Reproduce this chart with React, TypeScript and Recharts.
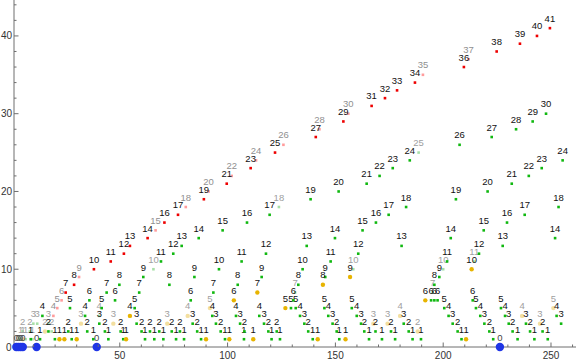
import { ScatterChart, Scatter, XAxis, YAxis } from 'recharts';

// [n, value] pairs
const redPoints = [
  [24.9, 7], [28.8, 8], [38.0, 10], [45.8, 11], [51.9, 12], [54.7, 13], [62.9, 14], [70.7, 16],
  [77.0, 17], [89.0, 19], [99.6, 21], [110.7, 23], [122.0, 25], [140.9, 27], [153.7, 29],
  [166.8, 31], [173.0, 32], [178.6, 33], [186.9, 34], [209.6, 36], [224.8, 38], [235.6, 39],
  [243.5, 40], [249.5, 41],
];
const redPale = [
  [19.2, 4], [21.0, 5], [23.0, 6], [31.1, 9], [66.6, 15], [80.6, 18], [91.2, 20], [101.9, 22],
  [113.2, 24], [125.9, 26], [142.6, 28], [156.0, 30], [190.6, 35], [211.8, 37],
];
const greenPoints = [
  // value 1
  [8.7, 1], [13.0, 1], [19.9, 1], [27.7, 1], [37.7, 1], [44.7, 1], [51.6, 1], [61.7, 1], [66.0, 1],
  [70.2, 1], [76.1, 1], [79.8, 1], [87.7, 1], [98.8, 1], [107.6, 1], [120.4, 1], [124.3, 1],
  [139.5, 1], [151.8, 1], [165.6, 1], [171.6, 1], [177.7, 1], [185.8, 1], [189.7, 1], [208.5, 1],
  [223.2, 1], [234.5, 1], [242.3, 1], [248.5, 1],
  // value 2
  [16.9, 2], [26.1, 2], [34.9, 2], [43.1, 2], [50.4, 2], [60.1, 2], [64.0, 2], [68.3, 2], [74.1, 2],
  [77.9, 2], [85.9, 2], [96.8, 2], [107.8, 2], [118.9, 2], [122.8, 2], [137.4, 2], [150.6, 2],
  [163.4, 2], [168.6, 2], [175.8, 2], [184.0, 2], [206.7, 2], [221.4, 2], [232.2, 2], [240.3, 2],
  [246.1, 2],
  // value 3
  [40.5, 3], [57.8, 3], [83.8, 3], [94.6, 3], [105.8, 3], [116.9, 3], [135.6, 3], [148.7, 3],
  [161.9, 3], [181.7, 3], [204.4, 3], [219.1, 3], [230.4, 3], [238.4, 3], [254.7, 3],
  // value 4
  [14.1, 4], [33.9, 4], [92.9, 4], [103.9, 4], [114.7, 4], [133.6, 4], [146.7, 4], [159.9, 4],
  [202.5, 4], [217.2, 4], [228.7, 4], [252.6, 4],
  // value 5
  [26.9, 5], [41.6, 5], [56.9, 5], [129.4, 5], [131.6, 5], [144.9, 5], [157.6, 5], [200.5, 5],
  [215.2, 5], [226.8, 5],
  // value 6
  [35.9, 6], [47.8, 6], [82.9, 6], [130.5, 6], [194.4, 6], [195.9, 6], [197.4, 6], [213.7, 6],
  // 7 .. 12
  [43.9, 7], [59.0, 7], [93.4, 7],
  [49.8, 8], [73.0, 8], [104.7, 8], [132.8, 8], [195.9, 8],
  [60.9, 9], [84.6, 9], [115.8, 9], [145.3, 9], [198.2, 9],
  [96.0, 10], [134.8, 10],
  [69.1, 11], [106.5, 11], [147.8, 11], [201.8, 11],
  [74.8, 12], [117.8, 12], [160.6, 12], [216.6, 12],
  // 13 and up
  [78.7, 13], [136.7, 13], [180.7, 13], [227.6, 13],
  [86.6, 14], [149.8, 14], [203.5, 14], [251.9, 14],
  [97.7, 15], [162.6, 15], [218.8, 15],
  [109.0, 16], [168.8, 16], [229.6, 16],
  [119.5, 17], [174.7, 17], [237.8, 17],
  [182.8, 18], [253.5, 18],
  [138.5, 19], [205.9, 19],
  [151.5, 20], [220.6, 20],
  [164.5, 21], [231.8, 21],
  [170.5, 22], [239.7, 22],
  [176.6, 23], [245.7, 23],
  [184.5, 24], [255.4, 24],
  [207.6, 26], [222.5, 27], [233.8, 28], [241.5, 29], [247.7, 30],
];
const greenPale = [
  [4.0, 1], [6.3, 1], [9.5, 1], [4.9, 2], [8.3, 2], [18.4, 2], [9.9, 3], [11.7, 3], [16.9, 3],
  [40.4, 4], [65.6, 10], [131.3, 7], [158.3, 10], [195.1, 7], [200.0, 10], [214.4, 11],
  [123.8, 18], [188.6, 25],
];
const yellowPoints = [
  [22.0, 1], [24.3, 1], [30.0, 1], [52.9, 1], [54.7, 4], [90.0, 1], [100.8, 1], [111.9, 1],
  [141.8, 1], [154.7, 1], [102.9, 6], [113.8, 7], [126.8, 5], [144.2, 8], [156.8, 9], [191.7, 6],
  [210.6, 1], [213.2, 10],
];
const yellowPale = [
  [5.0, 1], [15.3, 2], [32.0, 3], [47.0, 3], [72.0, 3], [81.5, 4], [91.8, 5], [167.6, 3],
  [174.2, 3], [180.0, 4], [188.2, 2], [236.6, 4], [244.9, 3], [251.1, 5],
];
const bluePoints = [[2, 0], [3, 0], [4, 0], [5, 0], [11.4, 0], [39.3, 0], [226.3, 0]];

const xTicks = [10, 20, 30, 40, 50, 60, 70, 80, 90, 100, 110, 120, 130, 140, 150, 160, 170, 180, 190, 200, 210, 220, 230, 240, 250, 260];
const yTicks = [0, 2, 4, 6, 8, 10, 12, 14, 16, 18, 20, 22, 24, 26, 28, 30, 32, 34, 36, 38, 40, 42, 44];

const FONT = '"Liberation Sans", Arial, sans-serif';
const AXIS = '#6e6e6e';
const Y_AXIS_W = 14;

const toData = (pts: number[][]) => pts.map(([x, y]) => ({ x, y }));

function dotShape(fill: string, r: number, round: boolean, labelColor: string) {
  return (props: any) => {
    const { cx, cy, payload } = props;
    if (cx == null || cy == null) return <g />;
    return (
      <g>
        {round ? (
          <circle cx={cx} cy={cy} r={r} fill={fill} />
        ) : (
          <rect x={cx - r} y={cy - r} width={r * 2} height={r * 2} fill={fill} />
        )}
        <text x={cx} y={cy - 6.5} textAnchor="middle" fontSize={9.5} fontFamily={FONT} fill={labelColor}>
          {payload.y}
        </text>
      </g>
    );
  };
}

const XTick = (props: any) => {
  const { x, y, payload } = props;
  const major = payload.value % 50 === 0;
  return (
    <g>
      <line x1={x} x2={x} y1={y} y2={y - (major ? 4.5 : 2.5)} stroke={AXIS} strokeWidth={1} />
      {major && (
        <text x={x} y={y + 12} textAnchor="middle" fontSize={10} fontFamily={FONT} fill="#333">
          {payload.value}
        </text>
      )}
    </g>
  );
};

// y ticks sit on the axis line, which is the left edge of the plot area
const YTick = (props: any) => {
  const { y, payload } = props;
  const x = Y_AXIS_W;
  const major = payload.value % 10 === 0;
  const label = String(payload.value);
  return (
    <g>
      {payload.value !== 0 && (
        <line x1={x} x2={x + (major ? 4.5 : 2.5)} y1={y} y2={y} stroke={AXIS} strokeWidth={1} />
      )}
      {major && (
        <text
          x={label.length > 1 ? 1 : 6}
          y={y + 3.5}
          textAnchor="start"
          fontSize={10}
          fontFamily={FONT}
          fill="#333"
        >
          {label}
        </text>
      )}
    </g>
  );
};

export default function App() {
  return (
    <div style={{ position: 'absolute', left: 0, top: 0, width: 576, height: 364, background: '#fff' }}>
      <ScatterChart
        width={576}
        height={364}
        margin={{ top: 0, right: 0, bottom: 0, left: 0 }}
        style={{ overflow: 'visible' }}
      >
        <XAxis
          type="number"
          dataKey="x"
          domain={[0.93, 261.6]}
          ticks={xTicks}
          interval={0}
          height={17}
          tickSize={0}
          tickMargin={0}
          tickLine={false}
          tick={<XTick />}
          axisLine={{ stroke: AXIS }}
        />
        <YAxis
          type="number"
          dataKey="y"
          domain={[0, 44.62]}
          ticks={yTicks}
          interval={0}
          width={Y_AXIS_W}
          tickSize={0}
          tickMargin={0}
          tickLine={false}
          tick={<YTick />}
          axisLine={{ stroke: AXIS }}
        />
        <Scatter data={toData(greenPale)} isAnimationActive={false} shape={dotShape('#a8e0a8', 1.3, false, '#a0a0a0')} />
        <Scatter data={toData(yellowPale)} isAnimationActive={false} shape={dotShape('#f3dfa0', 2.2, true, '#a0a0a0')} />
        <Scatter data={toData(redPale)} isAnimationActive={false} shape={dotShape('#ff9c9c', 1.3, false, '#909090')} />
        <Scatter data={toData(greenPoints)} isAnimationActive={false} shape={dotShape('#10b810', 1.3, false, '#111')} />
        <Scatter data={toData(yellowPoints)} isAnimationActive={false} shape={dotShape('#e8b400', 2.2, true, '#111')} />
        <Scatter data={toData(redPoints)} isAnimationActive={false} shape={dotShape('#ee0000', 1.3, false, '#111')} />
        <Scatter data={toData(bluePoints)} isAnimationActive={false} shape={dotShape('#1f35e6', 4.2, true, '#444')} />
      </ScatterChart>
    </div>
  );
}
